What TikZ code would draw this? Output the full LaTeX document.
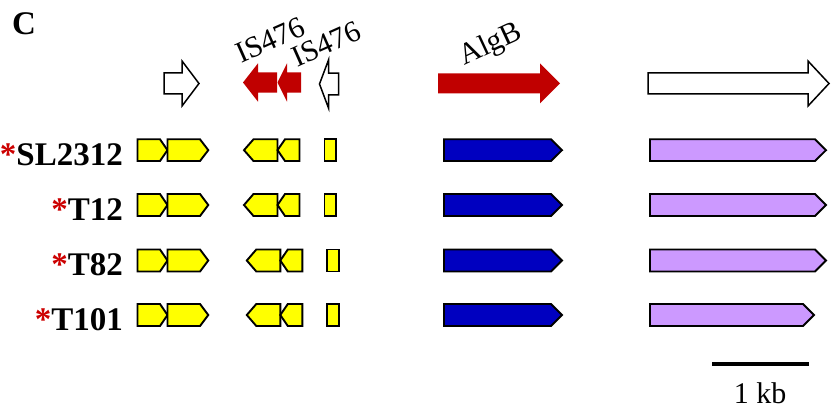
\documentclass[tikz,border=0pt]{standalone}
\usepackage{fontspec}
\setmainfont{Liberation Serif}
\definecolor{gyellow}{HTML}{FFFF00}
\definecolor{gblue}{HTML}{0000C0}
\definecolor{gpurple}{HTML}{CC99FF}
\definecolor{gred}{HTML}{C00000}
\definecolor{astred}{HTML}{CC0000}
% gene polygon: x0 (flat end), xbase, xtip, ytop, ybot
\newcommand\gR[5]{(#1,#4) -- (#2,#4) -- (#3,{(#4+#5)/2}) -- (#2,#5) -- (#1,#5) -- cycle}
% block arrow: x0, xbase, xtip, center y, body half, head half
\newcommand\bA[6]{(#1,#4-#5) -- (#2,#4-#5) -- (#2,#4-#6) -- (#3,#4) -- (#2,#4+#6) -- (#2,#4+#5) -- (#1,#4+#5) -- cycle}
\tikzset{
  gene/.style={draw=black, line width=1.9pt, line join=miter},
  blk/.style={draw=black, line width=1.5pt, fill=white, line join=miter},
  lab/.style={font=\fontsize{33}{36}\selectfont\bfseries, anchor=base east, inner sep=0pt},
  rot/.style={font=\fontsize{30}{34}\selectfont, inner sep=0pt},
}
\begin{document}
\begin{tikzpicture}[x=1pt,y=-1pt]
\useasboundingbox (0,0) rectangle (835,417);
% panel letter
\node[font=\fontsize{33}{36}\selectfont\bfseries, anchor=base west, inner sep=0pt] (C) at (12,35) {C};
% top arrows
\draw[blk] \bA{164}{182}{199}{83.5}{10.5}{22.5};
\fill[gred] \bA{277}{258}{243}{82.5}{10.2}{19.2};
\fill[gred] \bA{301}{287}{277.5}{82.5}{10.2}{19.2};
\draw[blk] \bA{338.5}{328.5}{319.5}{84}{10.8}{24};
\fill[gred] \bA{438}{540}{560}{83.3}{10}{20};
\draw[blk] \bA{648}{808}{829}{83.5}{10.5}{22.5};
% rotated labels
\node[rot, rotate=24] (is1) at (270,40) {IS476};
\node[rot, rotate=24] (is2) at (326,44) {IS476};
\node[rot, rotate=25] (algb) at (491,45) {AlgB};
% strain labels
\node[lab] (s1) at (123,165) {\textcolor{astred}{*}SL2312};
\node[lab] (s2) at (123,220) {\textcolor{astred}{*}T12};
\node[lab] (s3) at (123,275.5) {\textcolor{astred}{*}T82};
\node[lab] (s4) at (123,330) {\textcolor{astred}{*}T101};
% gene rows
\foreach \yt/\yb/\sh in {139.3/161/0, 194/216/0, 249.5/271.5/2.8, 304/326/2.8}{
  \draw[gene, fill=gyellow] \gR{137.5}{160}{167.5}{\yt}{\yb};
  \draw[gene, fill=gyellow] \gR{167.5}{200}{208.3}{\yt}{\yb};
  \draw[gene, fill=gyellow] \gR{277.5+\sh}{253.5+\sh}{244+\sh}{\yt}{\yb};
  \draw[gene, fill=gyellow] \gR{299.5+\sh}{285+\sh}{277.5+\sh}{\yt}{\yb};
  \draw[gene, fill=gyellow] (324.5+\sh,\yt) rectangle (336+\sh,\yb);
  \draw[gene, fill=gblue] \gR{444}{551}{562}{\yt}{\yb};
}
\foreach \yt/\yb in {139.3/161, 194/216, 249.5/271.5}{
  \draw[gene, fill=gpurple] \gR{650}{815}{826}{\yt}{\yb};
}
\draw[gene, fill=gpurple] \gR{650}{803}{814}{304}{326};
% scale bar
\coordinate (sbl) at (712,364);
\coordinate (sbr) at (809,364);
\draw[line width=3.5pt] (sbl) -- (sbr);
\node[font=\fontsize{30}{34}\selectfont, anchor=base, inner sep=0pt] (kb) at (760,403) {1 kb};
\end{tikzpicture}
\end{document}
